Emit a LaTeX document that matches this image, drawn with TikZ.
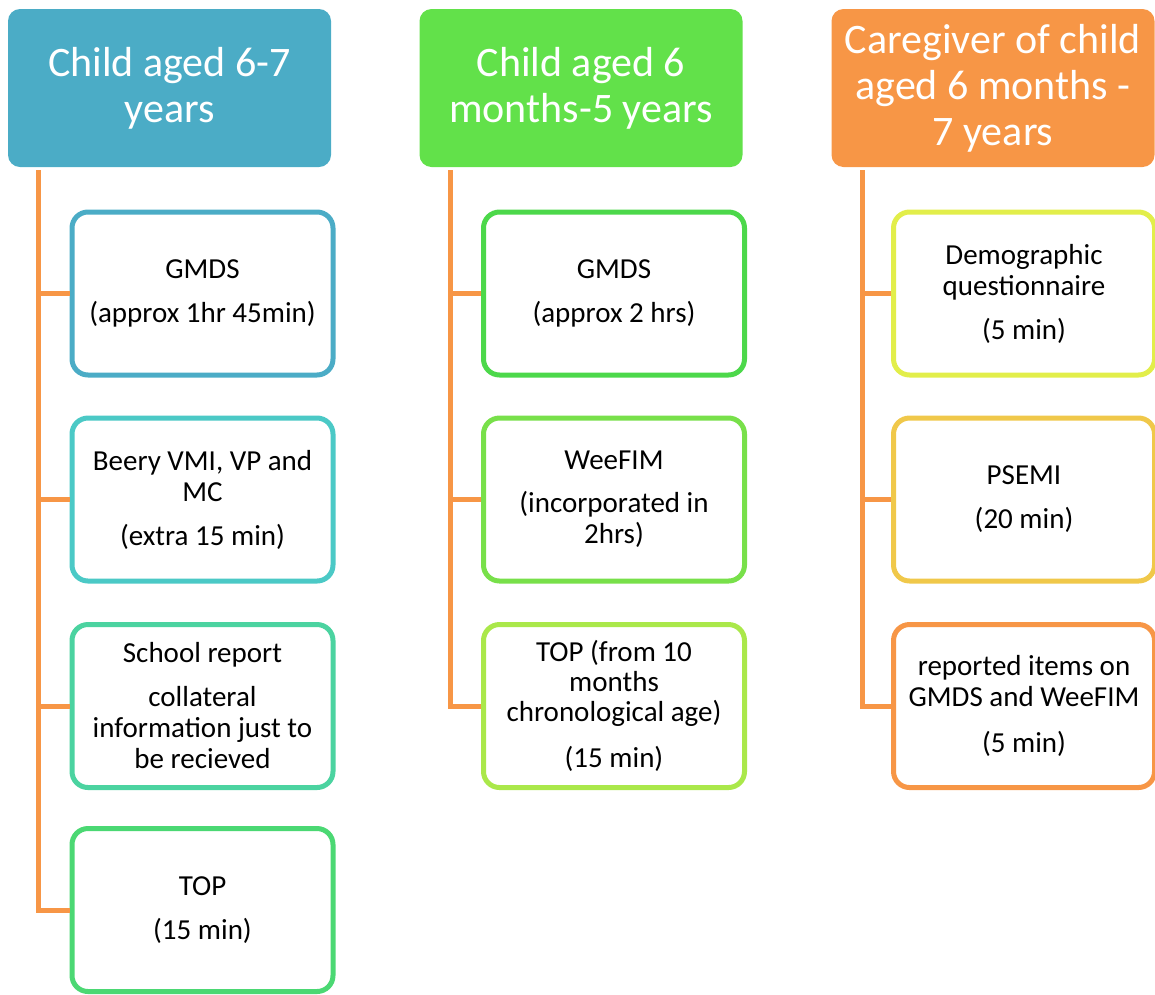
\documentclass[tikz,border=0pt]{standalone}
\usepackage{fontspec}
\setmainfont{Carlito}
\definecolor{hblue}{HTML}{4BACC6}
\definecolor{hgreen}{HTML}{62E14A}
\definecolor{horange}{HTML}{F79646}
\definecolor{cA}{HTML}{4BACC6}
\definecolor{cB}{HTML}{4BC9C6}
\definecolor{cC}{HTML}{4BD3A0}
\definecolor{cD}{HTML}{4BD873}
\definecolor{cE}{HTML}{4CD84A}
\definecolor{cF}{HTML}{78E04A}
\definecolor{cG}{HTML}{AAE84A}
\definecolor{cH}{HTML}{E2EE4A}
\definecolor{cI}{HTML}{F0C84A}
\definecolor{cJ}{HTML}{F79646}
\tikzset{
  head/.style={rounded corners=12pt, minimum width=323pt, minimum height=158pt,
    inner sep=0pt, align=center, text=white,
    font=\fontsize{42}{46}\selectfont},
  item/.style={draw=#1, line width=5pt, fill=white, rounded corners=16pt,
    minimum width=261pt, minimum height=163pt, inner sep=0pt, align=center,
    text=black, font=\fontsize{29}{31}\selectfont},
  conn/.style={draw=horange, line width=5pt}
}
\begin{document}
\begin{tikzpicture}[x=1pt,y=-1pt]
\useasboundingbox (0,0) rectangle (1155,994);
% headers
\node[head, fill=hblue] (h1) at (169.5,88) {Child aged 6-7\\years};
\node[head, fill=hgreen] (h2) at (581,88) {Child aged 6\\months-5 years};
\node[head, fill=horange] (h3) at (993,88) {Caregiver of child\\aged 6 months -\\7 years};
% column 1
\node[item=cA] (b11) at (202.5,293.5) {GMDS\\[13pt](approx 1hr 45min)};
\node[item=cB] (b12) at (202.5,499.5) {Beery VMI, VP and\\MC\\[13pt](extra 15 min)};
\node[item=cC] (b13) at (202.5,706) {School report\\[13pt]collateral\\information just to\\be recieved};
\node[item=cD] (b14) at (202.5,910) {TOP\\[13pt](15 min)};
% column 2
\node[item=cE] (b21) at (614,293.5) {GMDS\\[13pt](approx 2 hrs)};
\node[item=cF] (b22) at (614,499.5) {WeeFIM\\[12pt](incorporated in\\2hrs)};
\node[item=cG, font=\fontsize{29}{30}\selectfont] (b23) at (614,706) {TOP (from 10\\months\\chronological age)\\[16pt](15 min)};
% column 3
\node[item=cH] (b31) at (1024,293.5) {Demographic\\questionnaire\\[13pt](5 min)};
\node[item=cI] (b32) at (1024,499.5) {PSEMI\\[13pt](20 min)};
\node[item=cJ] (b33) at (1024,706) {reported items on\\GMDS and WeeFIM\\[15pt](5 min)};
% connectors
\coordinate (t1) at (38,170);
\coordinate (t2) at (450,170);
\coordinate (t3) at (862,170);
\draw[conn] (t1) |- (b14.west);
\draw[conn] (b11.west) -- (b11.west -| t1);
\draw[conn] (b12.west) -- (b12.west -| t1);
\draw[conn] (b13.west) -- (b13.west -| t1);
\draw[conn] (t2) |- (b23.west);
\draw[conn] (b21.west) -- (b21.west -| t2);
\draw[conn] (b22.west) -- (b22.west -| t2);
\draw[conn] (t3) |- (b33.west);
\draw[conn] (b31.west) -- (b31.west -| t3);
\draw[conn] (b32.west) -- (b32.west -| t3);
\end{tikzpicture}
\end{document}
